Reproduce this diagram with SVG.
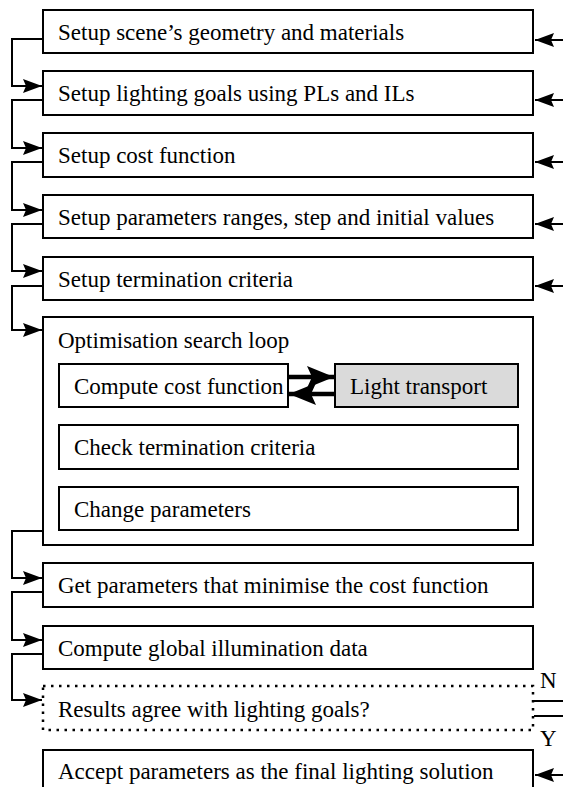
<svg xmlns="http://www.w3.org/2000/svg" width="563" height="787" viewBox="0 0 563 787">
<defs>
<style>
.box{fill:none;stroke:#000;stroke-width:2}
.dot{fill:none;stroke:#000;stroke-width:2.5;stroke-dasharray:2.5 5.5}
.lt{fill:#dadada;stroke:#000;stroke-width:2}
.t{font-family:"Liberation Serif","Times New Roman",serif;font-size:23px;fill:#000}
.c{fill:none;stroke:#000;stroke-width:2}
.tc{fill:none;stroke:#000;stroke-width:4.5}
</style>
<marker id="ah" markerUnits="userSpaceOnUse" markerWidth="20" markerHeight="14" refX="19" refY="7" orient="auto" overflow="visible">
<path d="M0,0 L19,7 L0,14 L3,7 Z" fill="#000"/>
</marker>
<marker id="ahb" markerUnits="userSpaceOnUse" markerWidth="28" markerHeight="22" refX="27" refY="11" orient="auto" overflow="visible">
<path d="M0,0 L27,11 L0,22 L5,11 Z" fill="#000"/>
</marker>
</defs>

<g id="n1"><rect class="box" x="43" y="10" width="490" height="43"/><text class="t" x="58" y="40">Setup scene’s geometry and materials</text></g>
<g id="n2"><rect class="box" x="43" y="71" width="490" height="44"/><text class="t" x="58" y="101">Setup lighting goals using PLs and ILs</text></g>
<g id="n3"><rect class="box" x="43" y="133" width="490" height="44"/><text class="t" x="58" y="163">Setup cost function</text></g>
<g id="n4"><rect class="box" x="43" y="195" width="490" height="43"/><text class="t" x="58" y="225">Setup parameters ranges, step and initial values</text></g>
<g id="n5"><rect class="box" x="43" y="257" width="490" height="43"/><text class="t" x="58" y="287">Setup termination criteria</text></g>
<g id="loop"><rect class="box" x="43" y="317" width="490" height="228"/><text class="t" x="58" y="348">Optimisation search loop</text></g>
<g id="cost"><rect class="box" x="59" y="364" width="229" height="43"/><text class="t" x="74" y="394">Compute cost function</text></g>
<g id="light"><rect class="lt" x="335" y="364" width="183" height="43"/><text class="t" x="350" y="394">Light transport</text></g>
<g id="check"><rect class="box" x="59" y="425" width="459" height="44"/><text class="t" x="74" y="455">Check termination criteria</text></g>
<g id="change"><rect class="box" x="59" y="487" width="459" height="43"/><text class="t" x="74" y="517">Change parameters</text></g>
<g id="get"><rect class="box" x="43" y="563" width="490" height="44"/><text class="t" x="58" y="593">Get parameters that minimise the cost function</text></g>
<g id="global"><rect class="box" x="43" y="626" width="490" height="43"/><text class="t" x="58" y="656">Compute global illumination data</text></g>
<g id="decision"><rect class="dot" x="43" y="686" width="490" height="44"/><text class="t" x="58" y="717">Results agree with lighting goals?</text></g>
<g id="accept"><rect class="box" x="43" y="750" width="490" height="60"/><text class="t" x="58" y="779">Accept parameters as the final lighting solution</text></g>

<g id="connectors">
<path class="c" d="M43,39 H12 V86 H42" marker-end="url(#ah)"/>
<path class="c" d="M43,100 H12 V148 H42" marker-end="url(#ah)"/>
<path class="c" d="M43,162 H12 V210 H42" marker-end="url(#ah)"/>
<path class="c" d="M43,224 H12 V271 H42" marker-end="url(#ah)"/>
<path class="c" d="M43,286 H12 V330 H42" marker-end="url(#ah)"/>
<path class="c" d="M43,531 H12 V578 H42" marker-end="url(#ah)"/>
<path class="c" d="M43,592 H12 V640 H42" marker-end="url(#ah)"/>
<path class="c" d="M43,654 H12 V700 H42" marker-end="url(#ah)"/>
<path class="c" d="M563,40 H535" marker-end="url(#ah)"/>
<path class="c" d="M563,100 H535" marker-end="url(#ah)"/>
<path class="c" d="M563,162 H535" marker-end="url(#ah)"/>
<path class="c" d="M563,224 H535" marker-end="url(#ah)"/>
<path class="c" d="M563,286 H535" marker-end="url(#ah)"/>
<path class="c" d="M563,775 H535" marker-end="url(#ah)"/>
<path class="tc" d="M288,377 H334" marker-end="url(#ahb)"/>
<path class="tc" d="M335,394 H289" marker-end="url(#ahb)"/>
<path class="c" d="M534,701 H563 M534,716 H563"/>
<text class="t" x="540" y="688">N</text>
<text class="t" x="540" y="746">Y</text>
</g>
</svg>
